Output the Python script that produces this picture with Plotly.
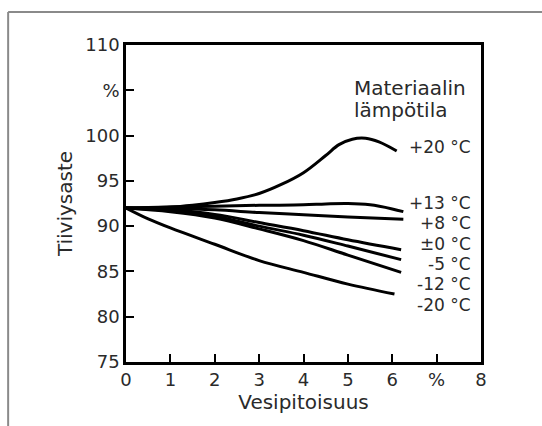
import plotly.graph_objects as go

# ---- data ----
x_p20 = [0, 1, 1.5, 2, 2.5, 3, 3.5, 4, 4.5, 4.8, 5.1, 5.4, 5.7, 6.1]
y_p20 = [92, 92.1, 92.3, 92.6, 93.0, 93.6, 94.6, 95.9, 97.8, 99.0, 99.6, 99.7, 99.3, 98.3]

x_p13 = [0, 1, 2, 3, 4, 4.5, 5, 5.5, 6, 6.25]
y_p13 = [92, 92.1, 92.2, 92.3, 92.35, 92.45, 92.5, 92.35, 91.9, 91.6]

x_p8 = [0, 1, 2, 3, 4, 5, 6.25]
y_p8 = [92, 91.95, 91.8, 91.5, 91.25, 91.0, 90.75]

x_0 = [0, 1, 2, 3, 4, 5, 6.2]
y_0 = [92, 91.8, 91.3, 90.4, 89.5, 88.5, 87.4]

x_m5 = [0, 1, 2, 3, 4, 5, 6.2]
y_m5 = [92, 91.7, 91.1, 90.0, 89.0, 87.8, 86.3]

x_m12 = [0, 1, 2, 3, 4, 5, 6.2]
y_m12 = [92, 91.6, 90.9, 89.7, 88.4, 86.8, 84.9]

x_m20 = [0, 0.5, 1, 2, 3, 4, 5, 6.05]
y_m20 = [92, 90.8, 89.8, 88.0, 86.2, 84.9, 83.6, 82.5]

series_labels = ["+20 °C", "+13 °C", "+8 °C", "±0 °C", "-5 °C", "-12 °C", "-20 °C"]
label_y = [98.7, 92.6, 90.3, 88.0, 85.8, 83.6, 81.3]

x_tickvals = [0, 1, 2, 3, 4, 5, 6, 7, 8]
x_ticktext = ["0", "1", "2", "3", "4", "5", "6", "%", "8"]
y_tickvals = [75, 80, 85, 90, 95, 100, 105, 110]
y_ticktext = ["75", "80", "85", "90", "95", "100", "%", "110"]

xs = [x_p20, x_p13, x_p8, x_0, x_m5, x_m12, x_m20]
ys = [y_p20, y_p13, y_p8, y_0, y_m5, y_m12, y_m20]

FONT = "DejaVu Sans"
TXT = "#2a2a2a"

fig = go.Figure()
for xv, yv, name in zip(xs, ys, series_labels):
    fig.add_trace(go.Scatter(x=xv, y=yv, mode="lines", name=name,
                             line=dict(color="black", width=3, shape="spline", smoothing=1.0),
                             showlegend=False, hoverinfo="skip"))

for name, ly in zip(series_labels, label_y):
    fig.add_annotation(x=7.82, y=ly, xref="x", yref="y", text=name, showarrow=False,
                       xanchor="right", yanchor="middle",
                       font=dict(family=FONT, size=17, color=TXT))

fig.add_annotation(x=5.1, y=105.3, xref="x", yref="y", text="Materiaalin", showarrow=False,
                   xanchor="left", yanchor="middle", font=dict(family=FONT, size=20, color=TXT))
fig.add_annotation(x=5.1, y=102.8, xref="x", yref="y", text="lämpötila", showarrow=False,
                   xanchor="left", yanchor="middle", font=dict(family=FONT, size=20, color=TXT))

# outer frame (top and left edge of the scanned page)
fig.add_shape(type="line", xref="paper", yref="paper", x0=-0.332, x1=1.2, y0=1.104, y1=1.104,
              line=dict(color="#8a8a8a", width=2))
fig.add_shape(type="line", xref="paper", yref="paper", x0=-0.332, x1=-0.332, y0=-0.3, y1=1.104,
              line=dict(color="#8a8a8a", width=2))

fig.update_xaxes(range=[0, 8], tickvals=x_tickvals, ticktext=x_ticktext,
                 ticks="inside", ticklen=8, tickwidth=1.5, tickcolor="black",
                 showline=True, linecolor="black", linewidth=2.5, mirror=True,
                 showgrid=False, zeroline=False, automargin=False,
                 tickfont=dict(family=FONT, size=18, color=TXT),
                 title=dict(text="Vesipitoisuus", font=dict(family=FONT, size=20, color=TXT), standoff=6))
fig.update_yaxes(range=[75, 110], tickvals=y_tickvals, ticktext=y_ticktext,
                 ticks="inside", ticklen=8, tickwidth=1.5, tickcolor="black",
                 showline=True, linecolor="black", linewidth=2.5, mirror=True,
                 showgrid=False, zeroline=False, automargin=False,
                 tickfont=dict(family=FONT, size=18, color=TXT),
                 title=dict(text="Tiiviysaste", font=dict(family=FONT, size=20, color=TXT), standoff=8))

fig.update_layout(width=542, height=426, margin=dict(l=126, r=61, t=45, b=64),
                  paper_bgcolor="white", plot_bgcolor="white")

fig.write_html("out.html", config={"displayModeBar": False},
               post_script="document.body.style.margin='0px';")
